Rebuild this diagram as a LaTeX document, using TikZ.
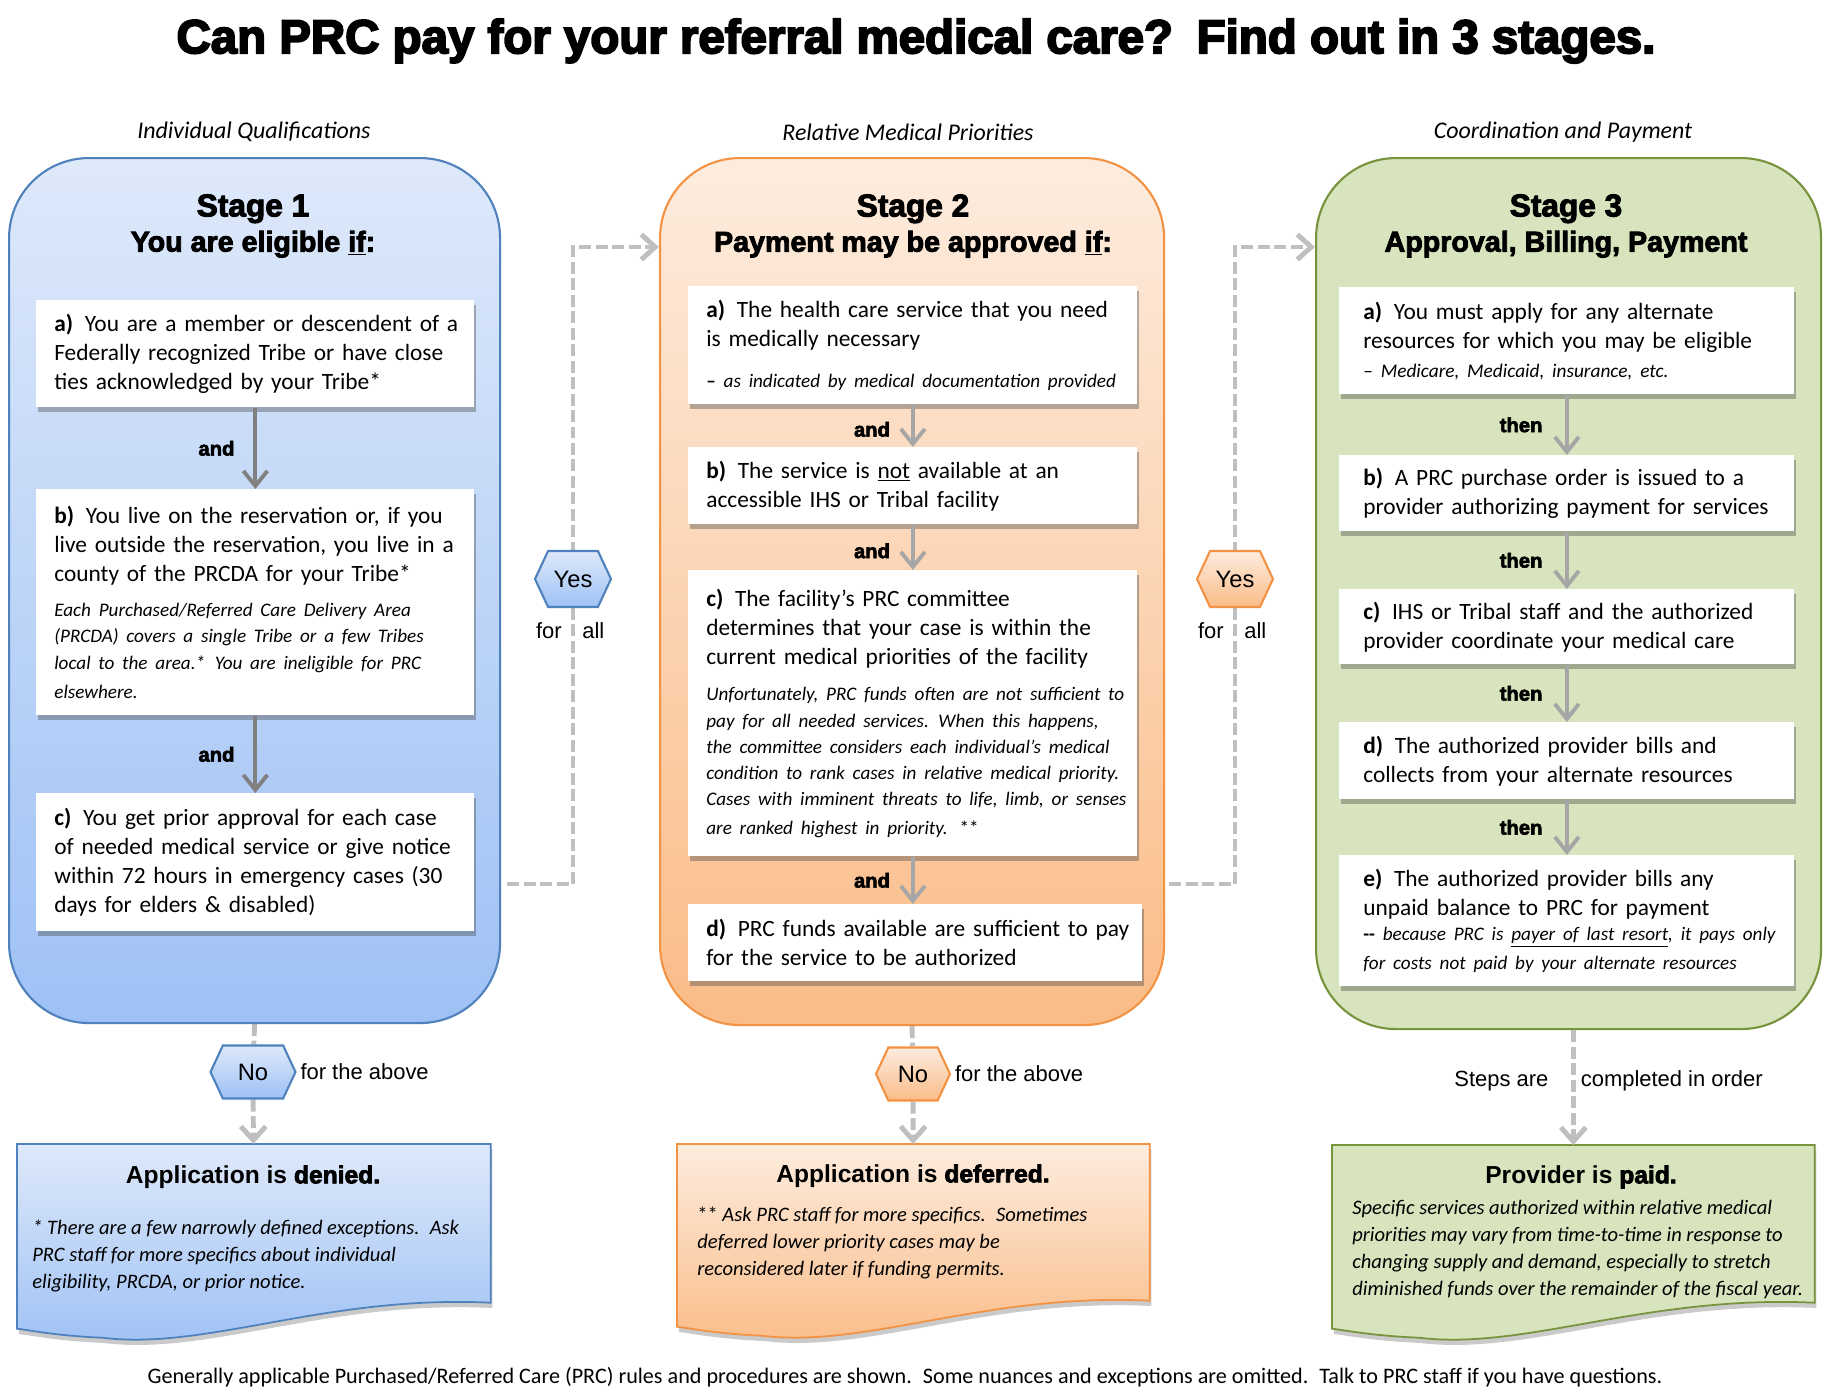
\documentclass[tikz,border=0pt]{standalone}
\usepackage{fontspec}
\setmainfont{Carlito}
\newfontfamily\arialf{Liberation Sans}
\newfontfamily\heavyf{Liberation Sans}[BoldFeatures={FakeBold=3}]
\newfontfamily\titlef{Liberation Sans}[BoldFeatures={FakeBold=4}]
\usetikzlibrary{arrows.meta,positioning,calc,shapes.symbols,shadows,backgrounds}
\definecolor{s1line}{RGB}{79,129,189}
\definecolor{s1top}{RGB}{222,233,250}
\definecolor{s1bot}{RGB}{158,193,245}
\definecolor{s2line}{RGB}{243,146,67}
\definecolor{s2top}{RGB}{253,236,222}
\definecolor{s2bot}{RGB}{250,188,136}
\definecolor{s3line}{RGB}{119,147,60}
\definecolor{s3fill}{RGB}{215,228,189}
\definecolor{arrowgray}{RGB}{128,128,128}
\definecolor{lightarrow}{RGB}{166,166,166}
\definecolor{dashgray}{RGB}{191,191,191}
\newcommand{\pxl}{0.02cm}
\newcommand{\bodysz}{\fontsize{13.3}{16.5}\selectfont}
\newcommand{\notesz}{\fontsize{10.9}{14.9}\selectfont\itshape}

\begin{document}
\begin{tikzpicture}[x=\pxl, y=-\pxl,
  col1/.style={draw=s1line, top color=s1top, bottom color=s1bot},
  col2/.style={draw=s2line, top color=s2top, bottom color=s2bot},
  col3/.style={draw=s3line, fill=s3fill},
  stagebox/.style 2 args={anchor=north west, inner sep=0pt, rounded corners=1.6cm, line width=1.2pt,
    minimum width=#1*\pxl, minimum height=#2*\pxl},
  wbox/.style 2 args={anchor=north west, fill=white, align=left, inner xsep=0.2cm, inner ysep=0pt,
    minimum width=#1*\pxl, text width=#1*\pxl-0.4cm, minimum height=#2*\pxl,
    execute at begin node={\leftskip=0.16cm\hyphenpenalty=10000\exhyphenpenalty=10000},
    drop shadow={shadow xshift=1pt, shadow yshift=-2.5pt, opacity=0.4, fill=black!70}, font=\bodysz},
  wideind/.style={execute at begin node={\leftskip=0.28cm\hyphenpenalty=10000\exhyphenpenalty=10000}},
  outbox/.style 2 args={anchor=north west, inner sep=0pt, minimum width=#1*\pxl, minimum height=#2*\pxl},
  hexbox/.style={signal, signal to=east and west, signal pointer angle=130, inner sep=0pt,
    line width=1.2pt, font=\arialf\fontsize{13.5}{16}\selectfont},
  stagehead/.style={align=center, font=\heavyf\fontsize{16.3}{20}\selectfont\bfseries},
  subtitle/.style={font=\fontsize{13.6}{15}\selectfont\itshape},
  andlbl/.style={inner sep=0pt, font=\heavyf\fontsize{11.5}{13}\selectfont\bfseries},
  plainlbl/.style={inner sep=0pt, font=\arialf\fontsize{12.5}{15}\selectfont},
  outhead/.style={font=\arialf\fontsize{14}{17}\selectfont\bfseries},
  outtext/.style={anchor=north west, align=left, inner sep=0pt, font=\fontsize{11.7}{15.3}\selectfont\itshape},
  s1arrow/.style={draw=arrowgray, line width=2.2pt, -{Straight Barb[length=0.3cm,width=0.48cm]}},
  s2arrow/.style={s1arrow, draw=lightarrow},
  dashline/.style={draw=dashgray, line width=2.8pt, dash pattern=on 0.24cm off 0.09cm},
  dasharrow/.style={dashline, -{Straight Barb[length=0.28cm,width=0.5cm]}}]
  \useasboundingbox (0,0) rectangle (1829,1393);

  % Title and column captions
  \node[font=\titlef\fontsize{27}{32}\selectfont\bfseries] (title) at (916,41)
    {Can PRC pay for your referral medical care?\enspace Find out in 3 stages.};
  \node[subtitle] (sub1) at (254,132) {Individual Qualifications};
  \node[subtitle] (sub2) at (908,132) {Relative Medical Priorities};
  \node[subtitle] (sub3) at (1563,132) {Coordination and Payment};

  % Stage containers
  \node[stagebox={491}{865}, col1] (stage1) at (8,157) {};
  \node[stagebox={504}{867}, col2] (stage2) at (659,157) {};
  \node[stagebox={505}{871}, col3] (stage3) at (1315,157) {};
  \node[stagehead] (head1) at (253,226) {{\fontsize{18}{20}\selectfont Stage 1}\\You are eligible \underline{if}:};
  \node[stagehead] (head2) at (913,226) {{\fontsize{18}{20}\selectfont Stage 2}\\Payment may be approved \underline{if}:};
  \node[stagehead] (head3) at (1566,226) {{\fontsize{18}{20}\selectfont Stage 3}\\Approval, Billing, Payment};

  % Stage 1
  \node[wbox={438}{107}] (s1a) at (36,300) {\textbf{a)}\enspace You are a member or descendent of a\\
    Federally recognized Tribe or have close\\ ties acknowledged by your Tribe*};
  \node[wbox={438}{226}] (s1b) at (36,489) {\textbf{b)}\enspace You live on the reservation or, if you\\
    live outside the reservation, you live in a\\ county of the PRCDA for your Tribe*\par\vspace{5pt}
    \notesz Each Purchased/Referred Care Delivery Area\\ (PRCDA) covers a single Tribe or a few Tribes\\
    local to the area.*\enspace You are ineligible for PRC\\ elsewhere.};
  \node[wbox={438}{138}] (s1c) at (36,793) {\textbf{c)}\enspace You get prior approval for each case\\
    of needed medical service or give notice\\ within 72 hours in emergency cases (30\\
    days for elders \& disabled)};
  \draw[s1arrow] (s1a) -- node[andlbl, left=0.38cm] {and} (s1b);
  \draw[s1arrow] (s1b) -- node[andlbl, left=0.38cm] {and} (s1c);

  % Stage 2
  \node[wbox={449}{118}] (s2a) at (688,286) {\textbf{a)}\enspace The health care service that you need\\
    is medically necessary\par\vspace{7pt}
    {\notesz\textbf{\upshape--} as indicated by medical documentation provided}};
  \node[wbox={449}{77}] (s2b) at (688,447) {\textbf{b)}\enspace The service is \underline{not} available at an\\
    accessible IHS or Tribal facility};
  \node[wbox={449}{286}] (s2c) at (688,570) {\textbf{c)}\enspace The facility’s PRC committee\\
    determines that your case is within the\\ current medical priorities of the facility\par\vspace{6pt}
    \notesz Unfortunately, PRC funds often are not sufficient to\\ pay for all needed services.\enspace When this happens,\\
    the committee considers each individual’s medical\\ condition to rank cases in relative medical priority.\\
    Cases with imminent threats to life, limb, or senses\\ are ranked highest in priority. {\upshape **}};
  \node[wbox={454}{77}] (s2d) at (688,904) {\textbf{d)}\enspace PRC funds available are sufficient to pay\\
    for the service to be authorized};
  \draw[s2arrow] (s2a) -- node[andlbl, left=0.42cm, yshift=-2pt] {and} (s2b);
  \draw[s2arrow] (s2b) -- node[andlbl, left=0.42cm, yshift=-2pt] {and} (s2c);
  \draw[s2arrow] (s2c) -- node[andlbl, left=0.42cm] {and} (s2c.south |- s2d.north);

  % Stage 3
  \node[wbox={455}{107}, wideind] (s3a) at (1339,287) {\textbf{a)}\enspace You must apply for any alternate\\
    resources for which you may be eligible\par
    {\fontsize{11}{14}\selectfont -- \textit{Medicare, Medicaid, insurance, etc.}}};
  \node[wbox={455}{76}, wideind] (s3b) at (1339,455) {\textbf{b)}\enspace A PRC purchase order is issued to a\\
    provider authorizing payment for services};
  \node[wbox={455}{75}, wideind] (s3c) at (1339,589) {\textbf{c)}\enspace IHS or Tribal staff and the authorized\\
    provider coordinate your medical care};
  \node[wbox={455}{77}, wideind] (s3d) at (1339,722) {\textbf{d)}\enspace The authorized provider bills and\\
    collects from your alternate resources};
  \node[wbox={455}{131}, wideind] (s3e) at (1339,855) {\textbf{e)}\enspace The authorized provider bills any\\
    unpaid balance to PRC for payment\par
    {\fontsize{10.9}{14.6}\selectfont\textbf{-{}-} \itshape because PRC is \underline{payer of last resort}, it pays only\\
    for costs not paid by your alternate resources}};
  \foreach \a/\b in {s3a/s3b,s3b/s3c,s3c/s3d,s3d/s3e}{
    \draw[s2arrow] (\a) -- node[andlbl, left=0.45cm] {then} (\b);
  }

  % Yes / No decisions
  \node[hexbox, col1, minimum width=76*\pxl, minimum height=56*\pxl] (yes1) at (573,579) {Yes};
  \node[hexbox, col2, minimum width=76*\pxl, minimum height=56*\pxl] (yes2) at (1235,579) {Yes};
  \node[plainlbl, anchor=east] (for1) at ($(yes1.center)+(-11,52)$) {for};
  \node[plainlbl, anchor=west] (all1) at ($(yes1.center)+(9,52)$) {all};
  \node[plainlbl, anchor=east] (for2) at ($(yes2.center)+(-11,52)$) {for};
  \node[plainlbl, anchor=west] (all2) at ($(yes2.center)+(9,52)$) {all};
  \node[hexbox, col1, minimum width=85*\pxl, minimum height=53*\pxl] (no1) at (253,1072) {No};
  \node[hexbox, col2, minimum width=74*\pxl, minimum height=53*\pxl] (no2) at (913,1074) {No};
  \node[plainlbl, right=2pt of no1] (above1) {for the above};
  \node[plainlbl, right=2pt of no2] (above2) {for the above};

  % Outcomes
  \node[outbox={473}{158}] (denied) at (17,1144) {};
  \node[outbox={472}{156}] (deferred) at (677,1144) {};
  \node[outbox={482}{157}] (provider) at (1332,1145) {};
  \begin{scope}[on background layer]
    \foreach \n/\k in {denied/1,deferred/2,provider/3}{
      \draw[col\k, line width=1pt, drop shadow={shadow xshift=1pt, shadow yshift=-3pt, opacity=0.35, fill=black!60}]
        (\n.north west) -- (\n.north east) -- (\n.south east)
        .. controls ($(\n.south east)!0.35!(\n.south west)+(0,-8)$) and ($(\n.south east)!0.6!(\n.south west)+(0,48)$)
        .. ($(\n.south east)!0.82!(\n.south west)+(0,35)$)
        .. controls ($(\n.south east)!0.92!(\n.south west)+(0,33)$) and ($(\n.south west)+(10,27)$)
        .. ($(\n.south west)+(0,26)$) -- cycle;
    }
  \end{scope}
  \node[outhead] (deniedhead) at (253,1177) {Application is {\heavyf denied.}};
  \node[outtext] (deniedtxt) at (32,1220) {* There are a few narrowly defined exceptions.\enspace Ask\\
    PRC staff for more specifics about individual\\ eligibility, PRCDA, or prior notice.};
  \node[outhead] (deferredhead) at (913,1176) {Application is {\heavyf deferred.}};
  \node[outtext] (deferredtxt) at (697,1207) {{\upshape **} Ask PRC staff for more specifics.\enspace Sometimes\\
    deferred lower priority cases may be\\ reconsidered later if funding permits.};
  \node[outhead] (providerhead) at (1581,1177) {Provider is {\heavyf paid.}};
  \node[outtext] (providertxt) at (1352,1200) {Specific services authorized within relative medical\\
    priorities may vary from time-to-time in response to\\ changing supply and demand, especially to stretch\\
    diminished funds over the remainder of the fiscal year.};

  % Dashed connectors
  \coordinate (y1s) at ($(stage1.east |- 0,884)+(6,0)$);
  \coordinate (y1e) at (stage2.west |- 0,247);
  \coordinate (y2s) at ($(stage2.east |- 0,884)+(4,0)$);
  \coordinate (y2e) at (stage3.west |- 0,247);
  \coordinate (s3out) at (stage3.south -| provider.north);
  \begin{scope}[on background layer]
    \draw[dasharrow] (y1s) -| (yes1.center) |- (y1e);
    \draw[dasharrow] (y2s) -| (yes2.center) |- (y2e);
    \draw[dashline] (stage1.south) -- (no1);
    \draw[dasharrow] (no1) -- (denied);
    \draw[dashline] (stage2.south) -- (no2);
    \draw[dasharrow] (no2) -- (deferred);
  \end{scope}
  \draw[dasharrow] (s3out) -- node[plainlbl, pos=0.44, left=0.45cm] {Steps are}
    node[plainlbl, pos=0.44, right=0.1cm] {completed in order} (provider);

  % Footer
  \node[font=\fontsize{12.6}{15}\selectfont] (foot) at (905,1377) {Generally applicable Purchased/Referred Care (PRC)
    rules and procedures are shown.\enspace Some nuances and exceptions are omitted.\enspace Talk to PRC staff if you have questions.};
\end{tikzpicture}
\end{document}
